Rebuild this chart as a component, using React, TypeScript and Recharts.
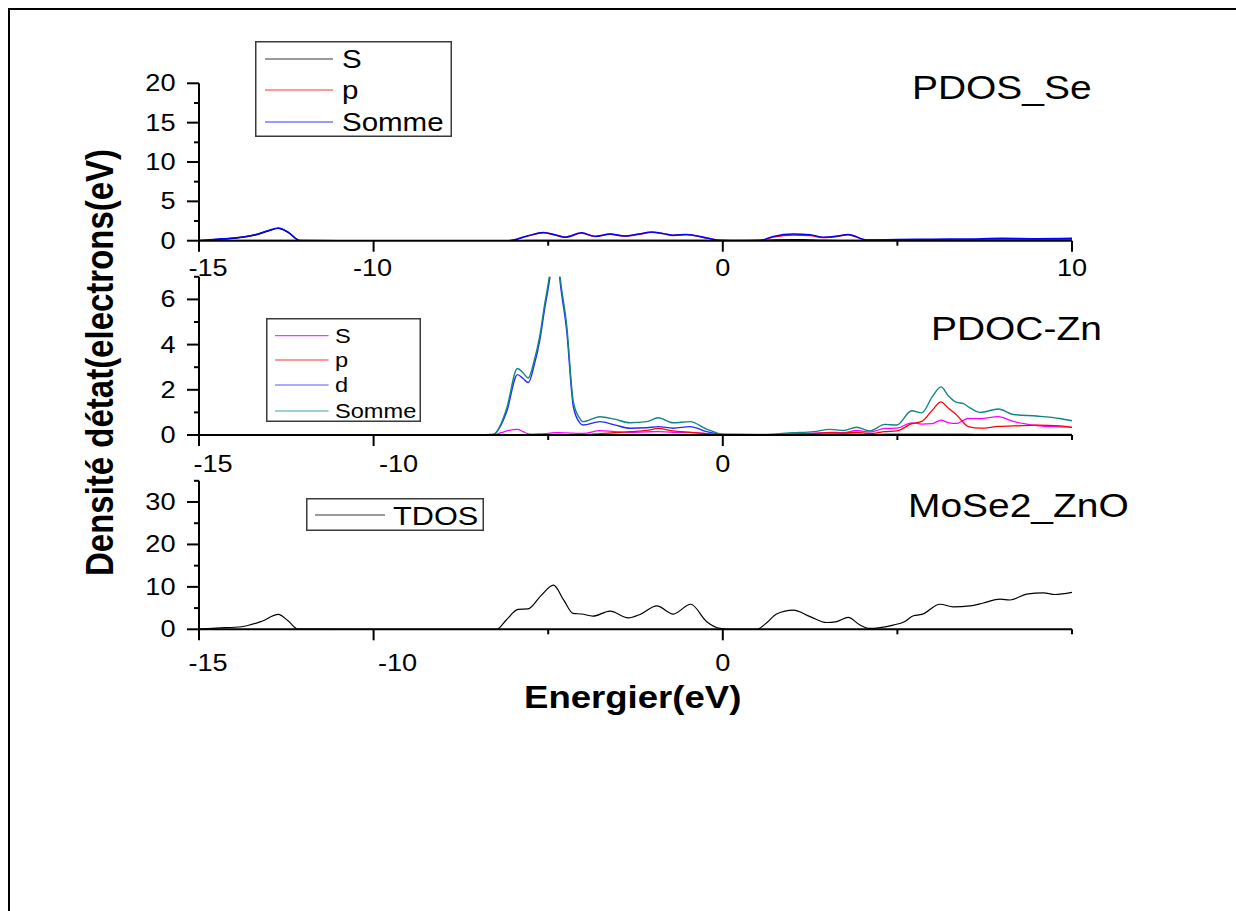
import React from "react";
import { LineChart, Line, XAxis, YAxis, Legend } from "recharts";

const W = 1236;
const H = 911;
const FONT = '"Liberation Sans", Arial, Helvetica, sans-serif';
// glyphs in this figure are drawn wider than they are tall
const STRETCH = 1.18;

// ---- PDOS Se (s, p, sum) ----
const seEnergy = [-15, -14.5, -14.17, -13.4, -13.0, -12.73, -12.45, -12.1, -11, -8, -6.15, -5.6, -5.14, -4.8, -4.52, -4.04, -3.66, -3.23, -2.8, -2.4, -2.04, -1.7, -1.42, -1.04, -0.46, -0.08, 0.5, 1.07, 1.45, 2.02, 2.5, 2.88, 3.3, 3.59, 4.12, 4.98, 6, 7, 8, 9, 10];
const seS = [0, 0.17, 0.25, 0.72, 1.26, 1.56, 1.06, 0, 0, 0, 0, 0.02, 0.04, 0.03, 0.02, 0.04, 0.03, 0.03, 0.02, 0.03, 0.04, 0.03, 0.03, 0.03, 0.02, 0, 0, 0.02, 0.08, 0.12, 0.1, 0.06, 0.04, 0.04, 0.02, 0.05, 0.08, 0.1, 0.12, 0.1, 0.13];
const seP = [0.02, 0.03, 0.03, 0.04, 0.04, 0.04, 0.04, 0.02, 0, 0, 0, 0.58, 1.01, 0.72, 0.43, 0.96, 0.52, 0.82, 0.58, 0.82, 1.06, 0.87, 0.67, 0.77, 0.33, 0.05, 0.02, 0.03, 0.47, 0.73, 0.65, 0.39, 0.56, 0.76, 0.08, 0.1, 0.12, 0.12, 0.18, 0.15, 0.17];
const seSum = [0.02, 0.2, 0.28, 0.76, 1.3, 1.6, 1.1, 0.02, 0, 0, 0, 0.6, 1.05, 0.75, 0.45, 1.0, 0.55, 0.85, 0.6, 0.85, 1.1, 0.9, 0.7, 0.8, 0.35, 0.05, 0.02, 0.05, 0.55, 0.85, 0.75, 0.45, 0.6, 0.8, 0.1, 0.15, 0.2, 0.22, 0.3, 0.25, 0.3];

// ---- PDOS Zn (s, p, d, sum) ----
const znEnergy = [-15, -10, -7, -6.57, -6.35, -6.19, -5.88, -5.72, -5.57, -5.4, -5.24, -5.1, -4.95, -4.8, -4.66, -4.47, -4.28, -4.1, -4.0, -3.52, -3.1, -2.66, -2.18, -1.85, -1.42, -0.94, -0.46, 0.02, 1, 2.02, 2.6, 3.07, 3.45, 3.83, 4.21, 4.64, 4.98, 5.41, 5.7, 6.0, 6.25, 6.45, 6.7, 6.89, 7.03, 7.37, 7.89, 8.32, 8.99, 9.66, 10];
const znS = [0, 0, 0, 0, 0.1, 0.18, 0.25, 0.15, 0.05, 0.04, 0.05, 0.06, 0.08, 0.1, 0.1, 0.09, 0.08, 0.07, 0.07, 0.19, 0.15, 0.12, 0.14, 0.15, 0.12, 0.12, 0.06, 0.01, 0.01, 0.05, 0.08, 0.12, 0.1, 0.2, 0.13, 0.29, 0.3, 0.54, 0.48, 0.5, 0.66, 0.55, 0.51, 0.65, 0.73, 0.72, 0.81, 0.6, 0.42, 0.36, 0.34];
const znP = [0, 0, 0, 0, 0.02, 0.02, 0.02, 0.02, 0.02, 0.02, 0.02, 0.02, 0.02, 0.02, 0.02, 0.02, 0.02, 0.02, 0.02, 0.06, 0.1, 0.15, 0.2, 0.29, 0.18, 0.12, 0.06, 0.01, 0.01, 0.04, 0.06, 0.1, 0.08, 0.12, 0.06, 0.15, 0.18, 0.5, 0.6, 1.1, 1.47, 1.2, 0.88, 0.55, 0.37, 0.3, 0.38, 0.4, 0.44, 0.4, 0.34];
const znD = [0, 0, 0, 0.02, 0.45, 1.03, 2.67, 2.5, 2.32, 3.1, 4.2, 5.6, 7.0, 9.1, 6.8, 4.6, 1.25, 0.55, 0.44, 0.59, 0.45, 0.3, 0.32, 0.37, 0.3, 0.37, 0.15, 0.02, 0.01, 0.02, 0.02, 0.03, 0.03, 0.03, 0.02, 0.03, 0.03, 0.03, 0.03, 0.04, 0.03, 0.03, 0.03, 0.03, 0.03, 0.02, 0.02, 0.02, 0.02, 0.02, 0.02];
const znSum = [0, 0, 0, 0.02, 0.5, 1.17, 2.94, 2.75, 2.52, 3.3, 4.4, 5.8, 7.2, 9.3, 7.0, 4.85, 1.47, 0.75, 0.59, 0.81, 0.7, 0.54, 0.59, 0.76, 0.54, 0.59, 0.26, 0.03, 0.02, 0.1, 0.15, 0.25, 0.2, 0.34, 0.18, 0.47, 0.44, 1.07, 0.98, 1.7, 2.13, 1.75, 1.44, 1.39, 1.25, 1.0, 1.15, 0.91, 0.84, 0.73, 0.63];

// ---- TDOS MoSe2/ZnO ----
const tdEnergy = [-15, -14.5, -13.78, -13.2, -12.73, -12.45, -12.17, -10, -6.48, -6.2, -5.86, -5.58, -5.2, -4.85, -4.55, -4.29, -4.04, -3.72, -3.23, -2.71, -2.37, -1.89, -1.42, -0.92, -0.46, -0.08, 0.2, 0.97, 1.25, 1.54, 2.02, 2.5, 2.97, 3.26, 3.59, 3.93, 4.17, 4.88, 5.2, 5.46, 5.7, 6.22, 6.6, 7.08, 7.46, 7.94, 8.22, 8.7, 9.18, 9.51, 10];
const tdos = [0.05, 0.3, 0.6, 1.9, 3.5, 2.0, 0.05, 0, 0, 2.2, 4.7, 4.8, 8.0, 10.4, 6.8, 3.75, 3.6, 3.1, 4.3, 2.7, 3.5, 5.5, 3.6, 5.9, 1.8, 0.2, 0, 0, 1.5, 3.6, 4.5, 3.0, 1.6, 1.8, 2.8, 1.0, 0.2, 1.0, 1.8, 3.2, 3.5, 5.9, 5.3, 5.5, 6.2, 7.1, 6.9, 8.3, 8.6, 8.2, 8.7];

const xTicks = [-15, -10, -5, 0, 5, 10];

type Series = { key: string; name: string; color: string; width: number };
type LegendBox = {
  left: number; top: number; w: number; h: number;
  rows: number[]; lineX0: number; lineX1: number; textX: number;
  fontSize: number; baseDy: number;
};
type PanelCfg = {
  rows: Record<string, number>[];
  series: Series[];
  yDomain: [number, number];
  yTicks: number[];
  yLabelled: number[];
  xLabelled: number[];
  xShift: Record<number, number>;
  xLabelDy: number;
  plotTop: number;
  plotBottom: number;
  legend: LegendBox;
};

const sePanel: PanelCfg = {
  rows: seEnergy.map((e, i) => ({ e, s: seS[i], p: seP[i], sum: seSum[i] })),
  series: [
    { key: "s", name: "S", color: "#000000", width: 1.4 },
    { key: "p", name: "p", color: "#ff0000", width: 1.4 },
    { key: "sum", name: "Somme", color: "#0000ff", width: 1.5 },
  ],
  yDomain: [0, 20],
  yTicks: [0, 2.5, 5, 7.5, 10, 12.5, 15, 17.5, 20],
  yLabelled: [0, 5, 10, 15, 20],
  xLabelled: [-15, -10, 0, 10],
  xShift: { [-15]: 9, [-10]: -1 },
  xLabelDy: 35.5,
  plotTop: 83.3,
  plotBottom: 240.7,
  legend: { left: 255, top: 41, w: 197, h: 96, rows: [18, 49, 81], lineX0: 10, lineX1: 78, textX: 87, fontSize: 25, baseDy: 9 },
};

const znPanel: PanelCfg = {
  rows: znEnergy.map((e, i) => ({ e, s: znS[i], p: znP[i], d: znD[i], sum: znSum[i] })),
  series: [
    { key: "s", name: "S", color: "#ff00ff", width: 1.3 },
    { key: "p", name: "p", color: "#ff0000", width: 1.3 },
    { key: "d", name: "d", color: "#2a2aff", width: 1.4 },
    { key: "sum", name: "Somme", color: "#108585", width: 1.4 },
  ],
  yDomain: [0, 7],
  yTicks: [0, 1, 2, 3, 4, 5, 6, 7],
  yLabelled: [0, 2, 4, 6],
  xLabelled: [-15, -10, 0],
  xShift: { [-15]: 14, [-10]: 25 },
  xLabelDy: 36.7,
  plotTop: 276.8,
  plotBottom: 435,
  legend: { left: 266, top: 318, w: 155, h: 104, rows: [17.7, 42, 67, 93], lineX0: 9, lineX1: 62.6, textX: 69, fontSize: 20, baseDy: 7 },
};

const tdPanel: PanelCfg = {
  rows: tdEnergy.map((e, i) => ({ e, t: tdos[i] })),
  series: [{ key: "t", name: "TDOS", color: "#000000", width: 1.2 }],
  yDomain: [0, 35],
  yTicks: [0, 5, 10, 15, 20, 25, 30, 35],
  yLabelled: [0, 10, 20, 30],
  xLabelled: [-15, -10, 0],
  xShift: { [-15]: 9, [-10]: 24 },
  xLabelDy: 41.4,
  plotTop: 480.8,
  plotBottom: 629.3,
  legend: { left: 306, top: 498, w: 178, h: 33, rows: [17], lineX0: 9, lineX1: 79, textX: 87, fontSize: 26, baseDy: 9.5 },
};

function makeXTick(cfg: PanelCfg) {
  return (props: any) => {
    const { x, y, payload } = props;
    const v = payload.value as number;
    const major = cfg.xLabelled.includes(v);
    return (
      <g>
        <line x1={x} x2={x} y1={y} y2={y + (major ? 11 : 5)} stroke="#000" strokeWidth={2} />
        {major && (
          <text
            transform={`translate(${x + (cfg.xShift[v] ?? 0)},${y + cfg.xLabelDy}) scale(${STRETCH},1)`}
            textAnchor="middle"
            fontSize={23}
            fontFamily={FONT}
            fill="#000"
          >
            {v}
          </text>
        )}
      </g>
    );
  };
}

function makeYTick(cfg: PanelCfg) {
  return (props: any) => {
    const { x, y, payload } = props;
    const v = payload.value as number;
    const major = cfg.yLabelled.includes(v);
    return (
      <g>
        <line x1={x} x2={x - (major ? 12 : 5)} y1={y} y2={y} stroke="#000" strokeWidth={2} />
        {major && (
          <text
            transform={`translate(${x - 23.5},${y + 8}) scale(${STRETCH},1)`}
            textAnchor="end"
            fontSize={23}
            fontFamily={FONT}
            fill="#000"
          >
            {v}
          </text>
        )}
      </g>
    );
  };
}

function makeLegend(cfg: PanelCfg) {
  const box = cfg.legend;
  const order = cfg.series.map((s) => s.key);
  return (props: any) => {
    const items = [...(props.payload ?? [])].sort(
      (a: any, b: any) => order.indexOf(a.dataKey) - order.indexOf(b.dataKey),
    );
    return (
      <svg width={box.w} height={box.h} style={{ display: "block" }}>
        <rect x={0.75} y={0.75} width={box.w - 1.5} height={box.h - 1.5} fill="none" stroke="#3a3a3a" strokeWidth={1.5} />
        {items.map((it: any, i: number) => {
          const cy = box.rows[i];
          return (
            <g key={it.dataKey}>
              <line x1={box.lineX0} x2={box.lineX1} y1={cy} y2={cy} stroke={it.color} strokeWidth={1.2} strokeOpacity={0.8} />
              <text
                transform={`translate(${box.textX},${cy + box.baseDy}) scale(${STRETCH},1)`}
                fontSize={box.fontSize}
                fontFamily={FONT}
                fill="#000"
              >
                {it.value}
              </text>
            </g>
          );
        })}
      </svg>
    );
  };
}

function DosPanel({ cfg }: { cfg: PanelCfg }) {
  const xAxisH = 40;
  return (
    <div style={{ position: "absolute", left: 0, top: 0 }}>
      <LineChart
        width={W}
        height={H}
        data={cfg.rows}
        margin={{ top: cfg.plotTop, right: W - 1072, left: 119, bottom: H - cfg.plotBottom - xAxisH }}
      >
        <XAxis
          dataKey="e"
          type="number"
          domain={[-15, 10]}
          ticks={xTicks}
          height={xAxisH}
          tickSize={0}
          tickMargin={0}
          tickLine={false}
          axisLine={{ stroke: "#000", strokeWidth: 2 }}
          tick={makeXTick(cfg)}
          allowDataOverflow
          interval={0}
        />
        <YAxis
          type="number"
          domain={cfg.yDomain}
          ticks={cfg.yTicks}
          width={80}
          tickSize={0}
          tickMargin={0}
          tickLine={false}
          axisLine={{ stroke: "#000", strokeWidth: 2 }}
          tick={makeYTick(cfg)}
          allowDataOverflow
          interval={0}
        />
        <Legend
          layout="vertical"
          align="center"
          verticalAlign="middle"
          content={makeLegend(cfg)}
          wrapperStyle={{ left: cfg.legend.left, top: cfg.legend.top, width: cfg.legend.w, height: cfg.legend.h, margin: 0 }}
        />
        {cfg.series.map((s) => (
          <Line
            key={s.key}
            type="monotone"
            dataKey={s.key}
            name={s.name}
            stroke={s.color}
            strokeWidth={s.width}
            dot={false}
            activeDot={false}
            isAnimationActive={false}
          />
        ))}
      </LineChart>
    </div>
  );
}

function Labels() {
  return (
    <svg width={W} height={H} style={{ position: "absolute", left: 0, top: 0, pointerEvents: "none" }}>
      <g fontFamily={FONT} fill="#000">
        <text transform={`translate(912,99) scale(${STRETCH},1)`} fontSize={33}>PDOS_Se</text>
        <text transform={`translate(931,340) scale(${STRETCH},1)`} fontSize={33}>PDOC-Zn</text>
        <text transform={`translate(908,517) scale(${STRETCH},1)`} fontSize={33}>MoSe2_ZnO</text>
        <text transform={`translate(524,708) scale(${STRETCH},1)`} fontSize={31} fontWeight="bold">Energier(eV)</text>
        <text transform={`translate(113,576) scale(${STRETCH},1) rotate(-90)`} fontSize={33} fontWeight="bold">
          Densité détat(electrons(eV)
        </text>
      </g>
    </svg>
  );
}

export default function App() {
  return (
    <div style={{ position: "absolute", left: 0, top: 0, width: W, height: H, overflow: "hidden", background: "#fff" }}>
      <div
        style={{
          position: "absolute",
          left: 8,
          top: 8,
          width: W + 20,
          height: H + 20,
          border: "2px solid #000",
          boxSizing: "border-box",
        }}
      />
      <DosPanel cfg={sePanel} />
      <DosPanel cfg={znPanel} />
      <DosPanel cfg={tdPanel} />
      <Labels />
    </div>
  );
}
